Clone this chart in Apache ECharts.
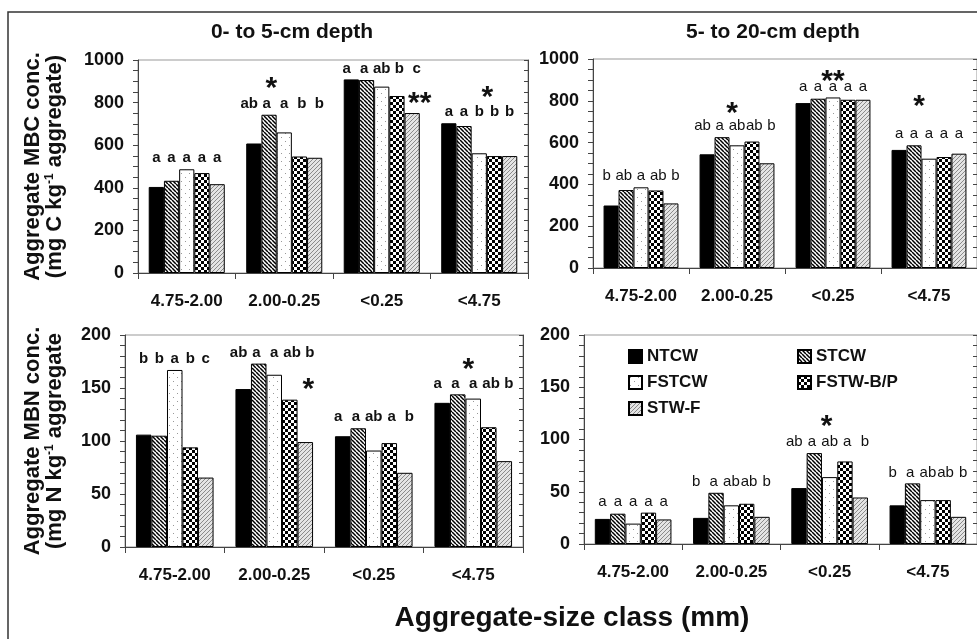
<!DOCTYPE html>
<html>
<head>
<meta charset="utf-8">
<script src="https://cdn.jsdelivr.net/npm/echarts@6/dist/echarts.min.js"></script>
<style>
  html, body { margin: 0; background: #fff; }
  #main { width: 977px; height: 639px; }
</style>
</head>
<body>
<div id="main"></div>
<script>
var categories = ['4.75-2.00', '2.00-0.25', '<0.25', '<4.75'];
var treatments = ['NTCW', 'STCW', 'FSTCW', 'FSTW-B/P', 'STW-F'];

// one row per treatment, values in category order
var mbc0to5 = [
  [404, 608, 909, 703],
  [433, 743, 906, 690],
  [487, 660, 875, 562],
  [469, 547, 831, 549],
  [417, 541, 751, 549]
];
var mbc5to20 = [
  [299, 544, 789, 565],
  [373, 626, 810, 587],
  [386, 587, 816, 523],
  [371, 605, 805, 531],
  [309, 501, 805, 547]
];
var mbn0to5 = [
  [106, 149, 104.5, 136],
  [105, 173, 112, 144],
  [167, 162.5, 91, 140],
  [94, 139, 98, 113],
  [65.5, 99, 70, 81]
];
var mbn5to20 = [
  [24, 25, 53.5, 37],
  [29, 49, 87, 58],
  [19.5, 37, 64, 42],
  [30, 38.5, 79, 42],
  [23.5, 26, 44.5, 26]
];

// significance letters, per category, one per treatment
var letters0to5MBC = [['a','a','a','a','a'], ['ab','a','a','b','b'], ['a','a','ab','b','c'], ['a','a','b','b','b']];
var letters5to20MBC = [['b','ab','a','ab','b'], ['ab','a','ab','ab','b'], ['a','a','a','a','a'], ['a','a','a','a','a']];
var letters0to5MBN = [['b','b','a','b','c'], ['ab','a','a','ab','b'], ['a','a','ab','a','b'], ['a','a','a','ab','b']];
var letters5to20MBN = [['a','a','a','a','a'], ['b','a','ab','ab','b'], ['ab','a','ab','a','b'], ['b','a','ab','ab','b']];

var stars0to5MBC = ['', '*', '**', '*'];
var stars5to20MBC = ['', '*', '**', '*'];
var stars0to5MBN = ['', '*', '', '*'];
var stars5to20MBN = ['', '', '*', ''];

var FONT = '"Liberation Sans", Arial, sans-serif';

// fill patterns for the treatments
function pattern(kind) {
  var c = document.createElement('canvas');
  var s = kind === 'dots' ? 8 : (kind === 'checker' ? 6 : 4);
  c.width = s; c.height = s;
  var g = c.getContext('2d');
  if (kind === 'solid') {
    g.fillStyle = '#000'; g.fillRect(0, 0, s, s);
  } else if (kind === 'back') {
    g.fillStyle = '#fff'; g.fillRect(0, 0, s, s);
    g.strokeStyle = '#000'; g.lineWidth = 1.5;
    for (var k = -s; k <= s; k += 4) {
      g.beginPath(); g.moveTo(k, 0); g.lineTo(k + s, s); g.stroke();
    }
  } else if (kind === 'dots') {
    g.fillStyle = '#fff'; g.fillRect(0, 0, s, s);
    g.fillStyle = '#999';
    g.fillRect(1, 1, 1, 1); g.fillRect(5, 5, 1, 1);
  } else if (kind === 'checker') {
    g.fillStyle = '#fff'; g.fillRect(0, 0, s, s);
    g.fillStyle = '#000';
    g.fillRect(0, 0, 3, 3); g.fillRect(3, 3, 3, 3);
  } else if (kind === 'fwd') {
    g.fillStyle = '#e4e4e4'; g.fillRect(0, 0, s, s);
    g.strokeStyle = '#8a8a8a'; g.lineWidth = 1;
    for (var j = -s; j <= s; j += 4) {
      g.beginPath(); g.moveTo(j, s); g.lineTo(j + s, 0); g.stroke();
    }
  }
  return { image: c, repeat: 'repeat' };
}
var fills = [pattern('solid'), pattern('back'), pattern('dots'), pattern('checker'), pattern('fwd')];

var grids = [
  { left: 138, top: 60, width: 390, height: 213 },
  { left: 593, top: 59, width: 388, height: 209 },
  { left: 125, top: 335, width: 398, height: 212 },
  { left: 584, top: 335, width: 396, height: 209 }
];

// star offsets [dx from category centre, dy above the letter row]
var starPlace = [
  [null, [-13, 24], [38, -26], [8, 24]],
  [null, [-5, 21], [0, 14], [-10, 37]],
  [null, [34, -28], null, [-5, 23]],
  [null, null, [-3, 24], null]
];
var letterWeight = ['bold', 'normal', 'bold', 'normal'];

var panels = [
  { values: mbc0to5, letters: letters0to5MBC, stars: stars0to5MBC, max: 1000, interval: 200, minor: 4 },
  { values: mbc5to20, letters: letters5to20MBC, stars: stars5to20MBC, max: 1000, interval: 200, minor: 4 },
  { values: mbn0to5, letters: letters0to5MBN, stars: stars0to5MBN, max: 200, interval: 50, minor: 5 },
  { values: mbn5to20, letters: letters5to20MBN, stars: stars5to20MBN, max: 200, interval: 50, minor: 5 }
];

var yNames = [
  '{t|Aggregate MBC conc.}\n{t|(mg C kg}{s|-1}{t| aggregate)}',
  '',
  '{t|Aggregate MBN conc.}\n{t|(mg N kg}{s|-1}{t| aggregate}',
  ''
];

function annotate(p) {
  var panel = panels[p];
  return function (params, api) {
    var i = api.value(0);
    var top = api.coord([i, api.value(1)]);
    var band = api.size([1, 0])[0];
    var groupW = band * 0.78, barW = groupW / 5;
    // letter rows with a two-letter code spread a little wider than the bars
    var hasPair = panel.letters[i].some(function (t) { return t.length > 1; });
    var pitch = hasPair ? barW * 1.15 : barW;
    var x0 = top[0] - pitch * 2.5;
    var yL = top[1] - 11;
    var children = [];
    panel.letters[i].forEach(function (t, k) {
      children.push({
        type: 'text',
        style: { text: t, x: x0 + pitch * (k + 0.5), y: yL, align: 'center', verticalAlign: 'middle',
                 font: letterWeight[p] + ' 15px ' + FONT, fill: '#111' }
      });
    });
    if (panel.stars[i]) {
      var o = starPlace[p][i] || [0, 24];
      children.push({
        type: 'text',
        style: { text: panel.stars[i], x: top[0] + o[0], y: yL - o[1] + 9, align: 'center', verticalAlign: 'middle',
                 font: 'bold 30px ' + FONT, fill: '#111' }
      });
    }
    return { type: 'group', children: children };
  };
}

var xAxis = [], yAxis = [], series = [];
panels.forEach(function (panel, p) {
  xAxis.push({
    type: 'category', gridIndex: p, data: categories,
    axisLine: { lineStyle: { color: '#444', width: 1 } },
    axisTick: { show: true, length: 6, lineStyle: { color: '#444' } },
    axisLabel: { margin: 20, fontSize: 17, fontWeight: 'bold', color: '#111', fontFamily: FONT }
  });
  var common = {
    type: 'value', gridIndex: p, min: 0, max: panel.max, interval: panel.interval,
    splitLine: { show: false },
    axisLine: { show: true, lineStyle: { color: '#444' } }
  };
  yAxis.push(Object.assign({}, common, {
    name: yNames[p], nameLocation: 'middle', nameRotate: 90, nameGap: p === 0 ? 72 : 59,
    nameTextStyle: {
      rich: {
        t: { fontSize: 22, fontWeight: 'bold', color: '#111', fontFamily: FONT, lineHeight: 22 },
        s: { fontSize: 12, fontWeight: 'bold', color: '#111', fontFamily: FONT, verticalAlign: 'top', lineHeight: 22 }
      }
    },
    axisTick: { show: true, length: 5, lineStyle: { color: '#444' } },
    minorTick: { show: true, splitNumber: panel.minor, length: 5, lineStyle: { color: '#444' } },
    axisLabel: { margin: 14, fontSize: 18, fontWeight: 'bold', color: '#111', fontFamily: FONT,
                 formatter: function (v) { return String(v); } }
  }));
  yAxis.push(Object.assign({}, common, {
    axisTick: { show: true, inside: true, length: 4, lineStyle: { color: '#444' } },
    minorTick: { show: true, splitNumber: panel.minor, length: 4, lineStyle: { color: '#444' } },
    axisLabel: { show: false }
  }));
  treatments.forEach(function (name, k) {
    series.push({
      type: 'bar', name: name, xAxisIndex: p, yAxisIndex: 2 * p,
      data: panel.values[k],
      barGap: '0%', barCategoryGap: '22%',
      itemStyle: { color: fills[k], borderColor: '#000', borderWidth: 1 },
      emphasis: { disabled: true }
    });
  });
  series.push({
    type: 'custom', xAxisIndex: p, yAxisIndex: 2 * p,
    data: categories.map(function (c, i) {
      return [i, Math.max.apply(null, panel.values.map(function (r) { return r[i]; }))];
    }),
    encode: { x: 0, y: 1 },
    renderItem: annotate(p),
    silent: true, z: 5
  });
});

var legendText = { fontSize: 17, fontWeight: 'bold', color: '#111', fontFamily: FONT };
var option = {
  backgroundColor: '#fff',
  animation: false,
  grid: grids.map(function (g) {
    return Object.assign({ show: true, borderColor: '#999', borderWidth: 1, containLabel: false }, g);
  }),
  xAxis: xAxis,
  yAxis: yAxis,
  legend: [
    { data: ['NTCW', 'FSTCW', 'STW-F'], orient: 'vertical', left: 623, top: 343, itemWidth: 13, itemHeight: 13,
      itemGap: 9, selectedMode: false, textStyle: legendText, icon: 'rect' },
    { data: ['STCW', 'FSTW-B/P'], orient: 'vertical', left: 792, top: 343, itemWidth: 13, itemHeight: 13,
      itemGap: 9, selectedMode: false, textStyle: legendText, icon: 'rect' }
  ],
  graphic: [
    { type: 'rect', shape: { x: 8, y: 12, width: 1000, height: 700 },
      style: { fill: 'none', stroke: '#333', lineWidth: 1.5 }, silent: true },
    { type: 'text', x: 292, y: 32, style: { text: '0- to 5-cm depth', align: 'center', verticalAlign: 'middle',
      font: 'bold 21px ' + FONT, fill: '#111' } },
    { type: 'text', x: 773, y: 32, style: { text: '5- to 20-cm depth', align: 'center', verticalAlign: 'middle',
      font: 'bold 21px ' + FONT, fill: '#111' } },
    { type: 'text', x: 572, y: 618, style: { text: 'Aggregate-size class (mm)', align: 'center', verticalAlign: 'middle',
      font: 'bold 28px ' + FONT, fill: '#111' } }
  ],
  series: series
};

var chart = echarts.init(document.getElementById('main'), null, { renderer: 'canvas' });
chart.setOption(option);
</script>
</body>
</html>
